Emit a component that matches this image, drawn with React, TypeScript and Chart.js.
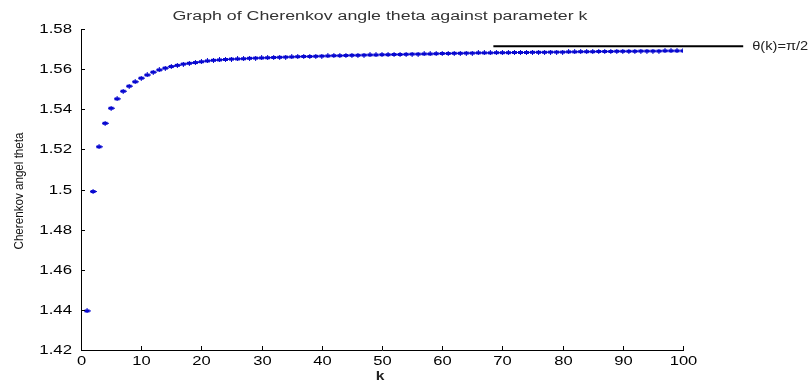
import { useEffect, useRef } from "react";
import { Chart, registerables } from "chart.js";

Chart.register(...registerables);

const kValues = [
  1, 2, 3, 4, 5, 6, 7, 8, 9, 10,
  11, 12, 13, 14, 15, 16, 17, 18, 19, 20,
  21, 22, 23, 24, 25, 26, 27, 28, 29, 30,
  31, 32, 33, 34, 35, 36, 37, 38, 39, 40,
  41, 42, 43, 44, 45, 46, 47, 48, 49, 50,
  51, 52, 53, 54, 55, 56, 57, 58, 59, 60,
  61, 62, 63, 64, 65, 66, 67, 68, 69, 70,
  71, 72, 73, 74, 75, 76, 77, 78, 79, 80,
  81, 82, 83, 84, 85, 86, 87, 88, 89, 90,
  91, 92, 93, 94, 95, 96, 97, 98, 99, 100,
];

const thetaValues = [
  1.4395, 1.499, 1.5213, 1.533, 1.5405, 1.5452, 1.549, 1.5515, 1.5537, 1.5555,
  1.5571, 1.5585, 1.5596, 1.5605, 1.5613, 1.5619, 1.5625, 1.5629, 1.5633, 1.5637,
  1.5641, 1.5644, 1.5646, 1.5648, 1.565, 1.5651, 1.5652, 1.5654, 1.5655, 1.5656,
  1.5657, 1.5658, 1.5659, 1.566, 1.5661, 1.5662, 1.5663, 1.5663, 1.5664, 1.5665,
  1.5666, 1.5667, 1.5667, 1.5668, 1.5669, 1.5669, 1.567, 1.5671, 1.5671, 1.5672,
  1.5672, 1.5673, 1.5673, 1.5674, 1.5675, 1.5675, 1.5676, 1.5676, 1.5677, 1.5678,
  1.5678, 1.5679, 1.5679, 1.568, 1.568, 1.5681, 1.5681, 1.5681, 1.5682, 1.5682,
  1.5682, 1.5683, 1.5683, 1.5683, 1.5684, 1.5684, 1.5684, 1.5685, 1.5685, 1.5685,
  1.5686, 1.5686, 1.5687, 1.5687, 1.5687, 1.5688, 1.5688, 1.5688, 1.5689, 1.5689,
  1.5689, 1.5689, 1.569, 1.569, 1.569, 1.569, 1.5691, 1.5691, 1.5691, 1.5691,
];

const limitK = [68.5, 110];
const limitTheta = [1.5714, 1.5714];

const xTickLabels = ["0", "10", "20", "30", "40", "50", "60", "70", "80", "90", "100"];
const yTickLabels = ["1.42", "1.44", "1.46", "1.48", "1.5", "1.52", "1.54", "1.56", "1.58"];

const TITLE = "Graph of Cherenkov angle theta against parameter k";
const X_TITLE = "k";
const Y_TITLE = "Cherenkov angel theta";
const LIMIT_LABEL = "θ(k)=π/2";

const BLUE = "#0808d0";
const FONT = "'Liberation Sans', Arial, sans-serif";

function drawText(
  ctx: CanvasRenderingContext2D,
  text: string,
  x: number,
  y: number,
  font: string,
  color: string,
  align: CanvasTextAlign,
  baseline: CanvasTextBaseline,
  sx: number,
  sy = 1,
  rotate = 0
) {
  ctx.save();
  ctx.translate(x, y);
  if (rotate) ctx.rotate(rotate);
  ctx.scale(sx, sy);
  ctx.font = font;
  ctx.fillStyle = color;
  ctx.textAlign = align;
  ctx.textBaseline = baseline;
  ctx.fillText(text, 0, 0);
  ctx.restore();
}

function fitScale(ctx: CanvasRenderingContext2D, text: string, font: string, target: number) {
  ctx.save();
  ctx.font = font;
  const w = ctx.measureText(text).width;
  ctx.restore();
  return w > 0 ? target / w : 1;
}

export default function App() {
  const ref = useRef<HTMLCanvasElement>(null);

  useEffect(() => {
    const canvas = ref.current;
    if (!canvas) return;

    const marker = document.createElement("canvas");
    marker.width = 7;
    marker.height = 5;
    const m = marker.getContext("2d")!;
    m.fillStyle = BLUE;
    m.fillRect(0, 2, 7, 1);
    m.fillRect(1, 1, 5, 3);
    m.fillRect(3, 0, 1, 5);

    const textPlugin = {
      id: "matlabText",
      afterDraw(chart: any) {
        const { ctx, chartArea } = chart;
        const xs = chart.scales.x;
        const ys = chart.scales.y;
        ctx.save();
        ctx.strokeStyle = "#000";
        ctx.lineWidth = 1;
        const tickFont = `12px ${FONT}`;
        yTickLabels.forEach((lbl) => {
          const py = Math.round(ys.getPixelForValue(parseFloat(lbl))) + 0.5;
          ctx.beginPath();
          ctx.moveTo(chartArea.left, py);
          ctx.lineTo(chartArea.left + 4, py);
          ctx.stroke();
          drawText(ctx, lbl, chartArea.left - 9, py + 0.5, tickFont, "#000", "right", "middle", 1.4);
        });
        xTickLabels.forEach((lbl) => {
          const px = Math.round(xs.getPixelForValue(parseFloat(lbl))) + 0.5;
          ctx.beginPath();
          ctx.moveTo(px, chartArea.bottom);
          ctx.lineTo(px, chartArea.bottom - 4);
          ctx.stroke();
          drawText(ctx, lbl, px, chartArea.bottom + 11.5, tickFont, "#000", "center", "middle", 1.38);
        });

        const titleFont = `12px ${FONT}`;
        drawText(ctx, TITLE, 380, 20, titleFont, "#333", "center", "alphabetic", fitScale(ctx, TITLE, titleFont, 415));

        const xtFont = `bold 12px ${FONT}`;
        drawText(ctx, X_TITLE, 380, 380, xtFont, "#222", "center", "alphabetic", 1.3);

        const ytFont = `11px ${FONT}`;
        drawText(ctx, Y_TITLE, 19, 191, ytFont, "#111", "center", "middle", fitScale(ctx, Y_TITLE, ytFont, 117), 1.2, -Math.PI / 2);

        const lx = xs.getPixelForValue(limitK[1]);
        const ly = ys.getPixelForValue(limitTheta[1]);
        const lblFont = `12px ${FONT}`;
        drawText(ctx, LIMIT_LABEL, lx + 9, ly, lblFont, "#222", "left", "middle", fitScale(ctx, LIMIT_LABEL, lblFont, 56));
        ctx.restore();
      },
    };

    const chart = new Chart(canvas, {
      type: "scatter",
      data: {
        datasets: [
          {
            label: "theta",
            data: kValues.map((k, i) => ({ x: k, y: thetaValues[i] })),
            pointStyle: marker as any,
            pointRadius: 3,
            showLine: false,
            backgroundColor: BLUE,
            borderColor: BLUE,
          },
          {
            type: "line",
            label: "limit",
            data: limitK.map((k, i) => ({ x: k, y: limitTheta[i] })),
            borderColor: "#000",
            borderWidth: 2,
            pointRadius: 0,
            clip: false as any,
            fill: false,
          } as any,
        ],
      },
      options: {
        animation: false,
        responsive: false,
        events: [],
        layout: { padding: { left: 0, right: 126, top: 29, bottom: 0 } },
        plugins: {
          legend: { display: false },
          tooltip: { enabled: false },
          title: { display: false },
        },
        scales: {
          x: {
            type: "linear",
            position: "bottom",
            min: 0,
            max: 100,
            ticks: { display: false, stepSize: 10 },
            grid: { display: false, drawTicks: false },
            border: { display: true, color: "#000", width: 1 },
            afterFit: (s: any) => {
              s.height = 31;
            },
          },
          y: {
            type: "linear",
            min: 1.42,
            max: 1.58,
            ticks: { display: false, stepSize: 0.02 },
            grid: { display: false, drawTicks: false },
            border: { display: true, color: "#000", width: 1 },
            afterFit: (s: any) => {
              s.width = 81;
            },
          },
        },
      },
      plugins: [textPlugin],
    });

    return () => chart.destroy();
  }, []);

  return (
    <div style={{ position: "absolute", left: 0, top: 0, width: 809, height: 381, background: "#fff" }}>
      <canvas ref={ref} width={809} height={381} style={{ display: "block" }} />
    </div>
  );
}
